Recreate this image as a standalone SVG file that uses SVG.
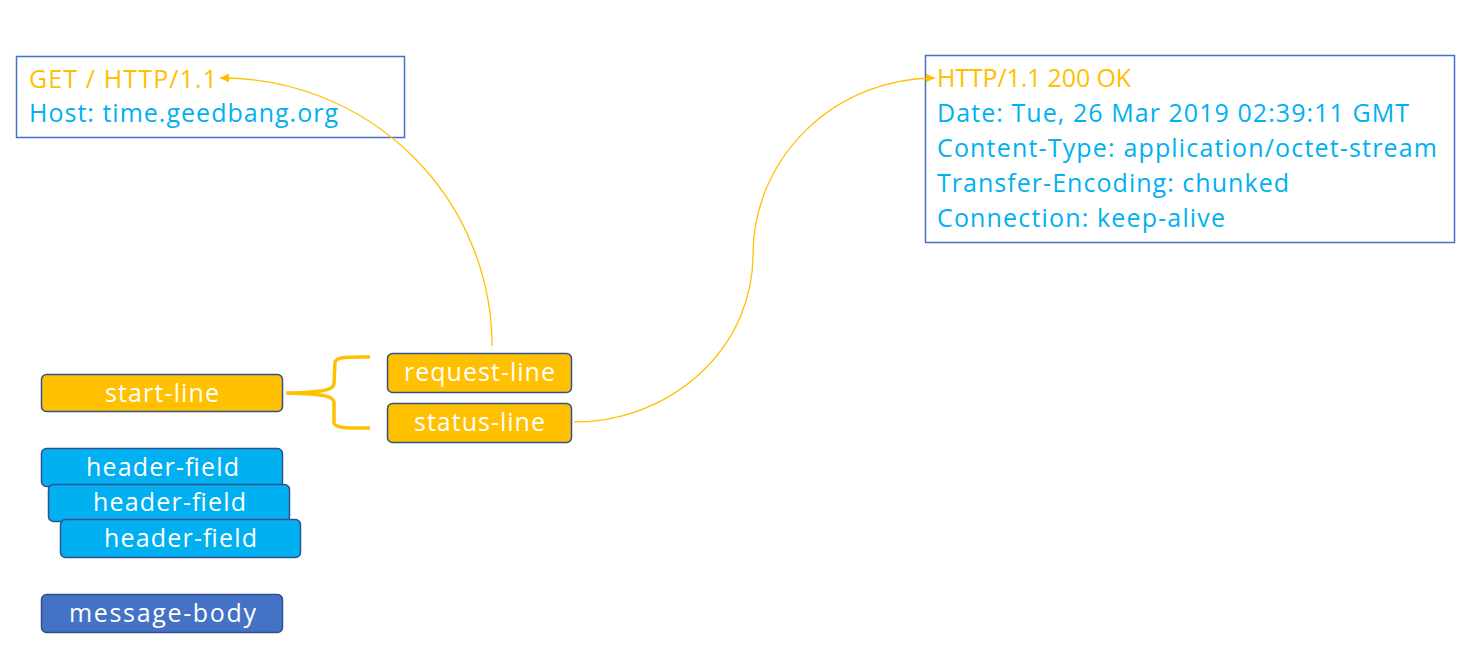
<svg xmlns="http://www.w3.org/2000/svg" width="1467" height="648" viewBox="0 0 1467 648">
<defs>
<style>
.box{fill:#fff;stroke:#4472C4;stroke-width:1.5}
.t{font-family:"Open Sans","Liberation Sans",sans-serif;font-size:25px}
.or{fill:#FFC000}
.bl{fill:#00B0F0}
.node{stroke:#2F528F;stroke-width:1.5}
.y{fill:#FFC000}
.c{fill:#00B0F0}
.m{fill:#4472C4}
.nt{font-family:"Open Sans","Liberation Sans",sans-serif;font-size:25px;fill:#fff}
.conn{fill:none;stroke:#FFC000;stroke-width:1.3}
</style>
<marker id="arr" viewBox="0 0 10 10" refX="10" refY="5" markerWidth="10" markerHeight="9" markerUnits="userSpaceOnUse" orient="auto">
<path d="M0,0 L10,5 L0,10 z" fill="#FFC000"/>
</marker>
</defs>
<rect width="1467" height="648" fill="#fff"/>
<g id="request-box">
<rect class="box" x="16.5" y="56.5" width="388" height="81"/>
<text class="t or" x="29" y="88" textLength="188" lengthAdjust="spacing">GET / HTTP/1.1</text>
<text class="t bl" x="29" y="122" textLength="309" lengthAdjust="spacing">Host: time.geedbang.org</text>
</g>
<g id="response-box">
<rect class="box" x="925.5" y="55.5" width="529" height="187"/>
<text class="t or" x="937" y="87" textLength="194" lengthAdjust="spacing">HTTP/1.1 200 OK</text>
<text class="t bl" x="937" y="122" textLength="472" lengthAdjust="spacing">Date: Tue, 26 Mar 2019 02:39:11 GMT</text>
<text class="t bl" x="937" y="157" textLength="500" lengthAdjust="spacing">Content-Type: application/octet-stream</text>
<text class="t bl" x="937" y="192" textLength="352" lengthAdjust="spacing">Transfer-Encoding: chunked</text>
<text class="t bl" x="937" y="227" textLength="288" lengthAdjust="spacing">Connection: keep-alive</text>
</g>
<g id="start-line">
<rect class="node y" x="41.5" y="374.5" width="241" height="37" rx="5"/>
<text class="nt" x="105" y="402" textLength="114" lengthAdjust="spacing">start-line</text>
</g>
<g id="brace">
<path d="M370,357 C352,357 337,356 335,362 L334,384 C333,390 325,392 286,393 M286,393 C325,394 333,396 334,402 L334,423 C336,429 352,428 370,428" fill="none" stroke="#FFC000" stroke-width="3.5" stroke-linejoin="round"/>
</g>
<g id="request-line">
<rect class="node y" x="387.5" y="353.5" width="184" height="39" rx="5"/>
<text class="nt" x="404" y="381" textLength="151" lengthAdjust="spacing">request-line</text>
</g>
<g id="status-line">
<rect class="node y" x="387.5" y="403.5" width="184" height="39" rx="5"/>
<text class="nt" x="414" y="431" textLength="131" lengthAdjust="spacing">status-line</text>
</g>
<g id="header-field-1">
<rect class="node c" x="41.5" y="448.5" width="241" height="38" rx="5"/>
<text class="nt" x="86" y="476" textLength="153" lengthAdjust="spacing">header-field</text>
</g>
<g id="header-field-2">
<rect class="node c" x="48.5" y="484.5" width="241" height="37" rx="5"/>
<text class="nt" x="93" y="511" textLength="153" lengthAdjust="spacing">header-field</text>
</g>
<g id="header-field-3">
<rect class="node c" x="60.5" y="519.5" width="240" height="38" rx="5"/>
<text class="nt" x="104" y="547" textLength="153" lengthAdjust="spacing">header-field</text>
</g>
<g id="message-body">
<rect class="node m" x="41.5" y="594.5" width="241" height="38" rx="5"/>
<text class="nt" x="69" y="622" textLength="187" lengthAdjust="spacing">message-body</text>
</g>
<g id="connectors">
<path class="conn" d="M492,346 A270,268 0 0 0 220,78" marker-end="url(#arr)"/>
<path class="conn" d="M574,422 A179,167 0 0 0 753,255 A182,177 0 0 1 935,78" marker-end="url(#arr)"/>
</g>
</svg>
